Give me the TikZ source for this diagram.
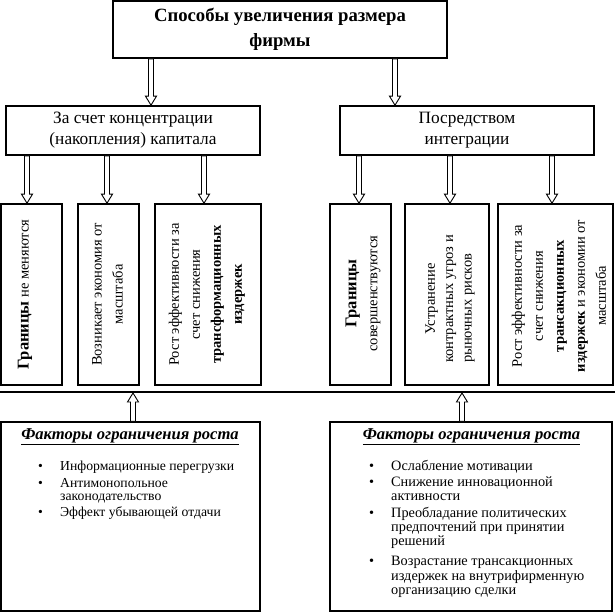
\documentclass[tikz,border=0pt]{standalone}
\usepackage{fontspec}
\setmainfont{Liberation Serif}
\usetikzlibrary{calc}
\newcommand\bbig[1]{{\fontsize{16.5bp}{21bp}\selectfont\bfseries #1}}
\newcommand\bulL{\makebox[22bp][l]{\textbullet}}
\newcommand\bulR{\makebox[22bp][l]{\textbullet}}
\begin{document}
\begin{tikzpicture}[x=1bp,y=-1bp,
  box/.style={draw, line width=1.6bp, inner sep=0, align=center},
  vtext/.style={rotate=90, align=center, inner sep=0, font=\fontsize{14.5bp}{21bp}\selectfont},
  ftitle/.style={inner sep=0, font=\fontsize{16.6bp}{18bp}\selectfont\bfseries\itshape},
  item/.style={anchor=mid west, inner sep=0, text height=8bp, text depth=2bp, font=\fontsize{13.7bp}{14bp}\selectfont},
  itemr/.style={anchor=mid west, inner sep=0, text height=8bp, text depth=2bp, font=\fontsize{14.3bp}{15bp}\selectfont},
  blockarr/.style={draw=black, line width=0.9bp, fill=white, to path={
    ($(\tikztostart)!2.5bp!90:(\tikztotarget)$)
    -- ($($(\tikztotarget)!9bp!(\tikztostart)$)!2.5bp!90:(\tikztotarget)$)
    -- ($($(\tikztotarget)!9bp!(\tikztostart)$)!5.5bp!90:(\tikztotarget)$)
    -- (\tikztotarget)
    -- ($($(\tikztotarget)!9bp!(\tikztostart)$)!5.5bp!-90:(\tikztotarget)$)
    -- ($($(\tikztotarget)!9bp!(\tikztostart)$)!2.5bp!-90:(\tikztotarget)$)
    -- ($(\tikztostart)!2.5bp!-90:(\tikztotarget)$)
    -- cycle}}
]
\useasboundingbox (0,0) rectangle (615,612);

% top box
\node[box, line width=2bp, minimum width=334bp, minimum height=57bp,
      font=\fontsize{18.7bp}{25bp}\selectfont\bfseries] (title) at (280,29.5)
      {Способы увеличения размера\\фирмы};

% middle boxes
\node[box, minimum width=254bp, minimum height=49bp,
      font=\fontsize{17.3bp}{21bp}\selectfont] (ml) at (133,130.5)
      {За счет концентрации\\(накопления) капитала};
\node[box, minimum width=254bp, minimum height=49bp,
      font=\fontsize{17.3bp}{21bp}\selectfont] (mr) at (467,130.5)
      {Посредством\\интеграции};

% vertical boxes
\node[box, minimum width=61bp, minimum height=181bp] (b1) at (31.5,294.5) {};
\node[box, minimum width=61bp, minimum height=181bp] (b2) at (108.5,294.5) {};
\node[box, minimum width=106bp, minimum height=181bp] (b3) at (208,294.5) {};
\node[box, minimum width=61bp, minimum height=181bp] (b4) at (360.5,294.5) {};
\node[box, minimum width=84bp, minimum height=181bp] (b5) at (447,294.5) {};
\node[box, minimum width=115bp, minimum height=181bp] (b6) at (555.5,294.5) {};

\node[vtext] (t1) at (25,294.5) {\bbig{Границы} не меняются};
\node[vtext] (t2) at (107.5,294.5) {Возникает экономия от\\масштаба};
\node[vtext] (t3) at (207,294.5) {Рост эффективности за\\счет снижения\\\textbf{трансформационных}\\\textbf{издержек}};
\node[vtext] (t4) at (363,293.5) {\bbig{Границы}\\совершенствуются};
\node[vtext] (t5) at (449,299)
  {\begin{tabular}{@{}l@{}}\multicolumn{1}{@{}c@{}}{Устранение}\\[-2.7bp] контрактных угроз и\\[-2.7bp] рыночных рисков\end{tabular}};
\node[vtext] (t6) at (559,296) {Рост эффективности за\\счет снижения\\\textbf{трансакционных}\\\textbf{издержек} и экономии от\\масштаба};

% horizontal line
\coordinate (hl0) at (0,392);
\coordinate (hl1) at (615,392);
\draw[line width=2bp] (hl0) -- (hl1);

% bottom boxes
\node[box, minimum width=259bp, minimum height=189bp] (bl) at (130.5,516.5) {};
\node[box, minimum width=282bp, minimum height=189bp] (br) at (471,516.5) {};

\node[ftitle] (blt) at (130,437) {\underline{Факторы ограничения роста}};
\node[ftitle] (brt) at (471.5,437) {\underline{Факторы ограничения роста}};

\node[item] (l1) at (38,468) {\bulL Информационные перегрузки};
\node[item] (l2) at (38,485.5) {\bulL Антимонопольное};
\node[item] (l3) at (60,498) {законодательство};
\node[item] (l4) at (38,514) {\bulL Эффект убывающей отдачи};

\node[itemr] (r1) at (369,468) {\bulR Ослабление мотивации};
\node[itemr] (r2) at (369,484.5) {\bulR Снижение инновационной};
\node[itemr] (r3) at (391,498.5) {активности};
\node[itemr] (r4) at (369,515) {\bulR Преобладание политических};
\node[itemr] (r5) at (391,529) {предпочтений при принятии};
\node[itemr] (r6) at (391,543) {решений};
\node[itemr] (r7) at (369,563) {\bulR Возрастание трансакционных};
\node[itemr] (r8) at (391,578) {издержек на внутрифирменную};
\node[itemr] (r9) at (391,592) {организацию сделки};

% arrows
\coordinate (a1s) at ([xshift=-129bp]title.south);
\coordinate (a1e) at (a1s |- ml.north);
\coordinate (a2s) at ([xshift=115bp]title.south);
\coordinate (a2e) at (a2s |- mr.north);
\draw[blockarr] (a1s) to (a1e);
\draw[blockarr] (a2s) to (a2e);

\coordinate (e1) at ([xshift=-4.5bp]b1.north);
\coordinate (s1) at (e1 |- ml.south);
\coordinate (e2) at ([xshift=-1.5bp]b2.north);
\coordinate (s2) at (e2 |- ml.south);
\coordinate (e3) at ([xshift=-4bp]b3.north);
\coordinate (s3) at (e3 |- ml.south);
\coordinate (e4) at ([xshift=-1.5bp]b4.north);
\coordinate (s4) at (e4 |- mr.south);
\coordinate (e5) at ([xshift=3bp]b5.north);
\coordinate (s5) at (e5 |- mr.south);
\coordinate (e6) at ([xshift=-3.5bp]b6.north);
\coordinate (s6) at (e6 |- mr.south);
\draw[blockarr] (s1) to (e1);
\draw[blockarr] (s2) to (e2);
\draw[blockarr] (s3) to (e3);
\draw[blockarr] (s4) to (e4);
\draw[blockarr] (s5) to (e5);
\draw[blockarr] (s6) to (e6);

\coordinate (u1s) at ([xshift=2.5bp]bl.north);
\coordinate (u1e) at (u1s |- hl0);
\coordinate (u2s) at ([xshift=-9bp]br.north);
\coordinate (u2e) at (u2s |- hl0);
\draw[blockarr] (u1s) to ([yshift=-1bp]u1e);
\draw[blockarr] (u2s) to ([yshift=-1bp]u2e);
\end{tikzpicture}
\end{document}
